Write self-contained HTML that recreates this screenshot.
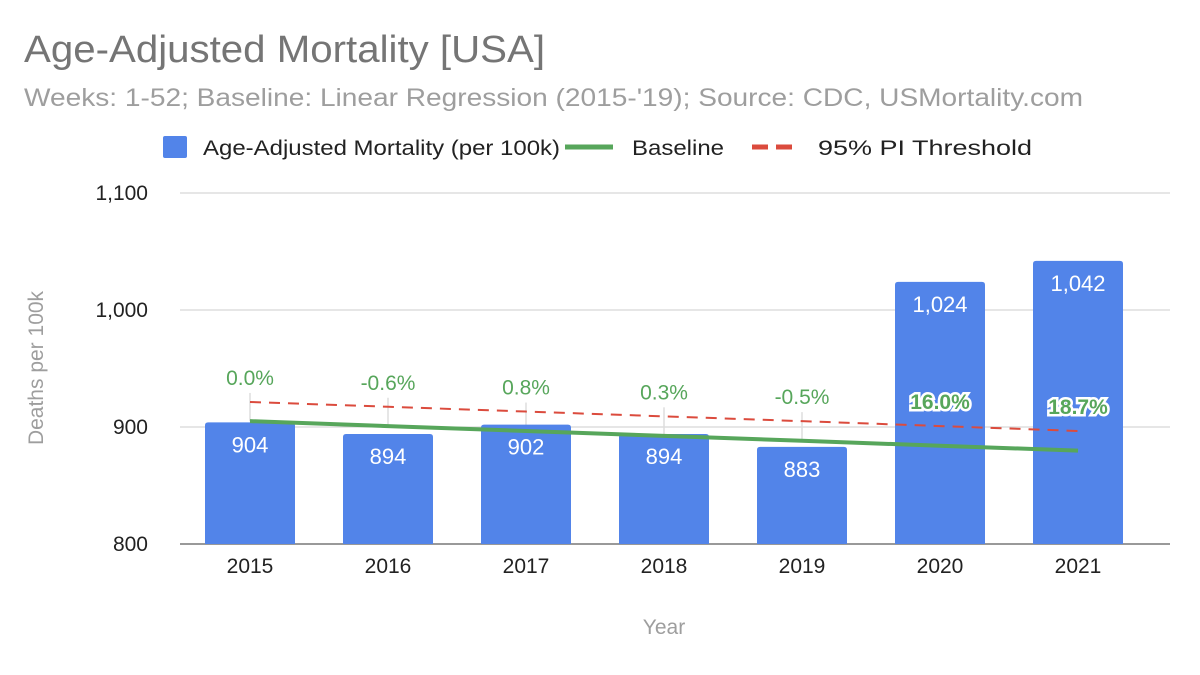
<!DOCTYPE html>
<html><head><meta charset="utf-8">
<style>
body{margin:0;background:#fff;width:1200px;height:670px;overflow:hidden;font-family:"Liberation Sans",Arial,sans-serif}
</style></head>
<body>
<svg id="chart" width="1200" height="670" xmlns="http://www.w3.org/2000/svg" font-family="Liberation Sans, Arial, sans-serif">
<text x="24" y="62" font-size="38" fill="#757575" textLength="521" lengthAdjust="spacingAndGlyphs">Age-Adjusted Mortality [USA]</text>
<text x="24" y="106" font-size="25" fill="#9e9e9e" textLength="1059" lengthAdjust="spacingAndGlyphs">Weeks: 1-52; Baseline: Linear Regression (2015-'19); Source: CDC, USMortality.com</text>
<g font-size="21" fill="#222">
 <g><rect x="163" y="136" width="24" height="22" rx="2" fill="#5284e9"/><text x="203" y="155" textLength="357" lengthAdjust="spacingAndGlyphs">Age-Adjusted Mortality (per 100k)</text></g>
 <g><line x1="565" y1="147" x2="613" y2="147" stroke="#57a65b" stroke-width="5"/><text x="632" y="155" textLength="92" lengthAdjust="spacingAndGlyphs">Baseline</text></g>
 <g><line x1="752" y1="147" x2="800" y2="147" stroke="#db4b3d" stroke-width="5" stroke-dasharray="16,8"/><text x="818" y="155" textLength="214" lengthAdjust="spacingAndGlyphs">95% PI Threshold</text></g>
</g>
<text transform="translate(43,368) rotate(-90)" text-anchor="middle" font-size="21" fill="#9e9e9e">Deaths per 100k</text>
<text x="664" y="634" text-anchor="middle" font-size="21" fill="#9e9e9e">Year</text>
<g id="grid"></g><g id="bars"></g><g id="lines"></g><g id="labels"></g>
</svg>
<script>
const years=["2015","2016","2017","2018","2019","2020","2021"];
const mortality=[904,894,902,894,883,1024,1042];
const baseline=[905,900.8,896.6,892.4,888.2,884,879.8];
const threshold=[921.4,917.3,913.2,909.1,905,900.8,896.6];
const pctLabels=["0.0%","-0.6%","0.8%","0.3%","-0.5%","16.0%","18.7%"];
const valueLabels=["904","894","902","894","883","1,024","1,042"];
const yTicks=[800,900,1000,1100];
const yTickLabels=["800","900","1,000","1,100"];
const NS="http://www.w3.org/2000/svg";
function y(v){return 544-(v-800)*1.17;}
function x(i){return 250+i*138;}
function mk(t,a,p){const e=document.createElementNS(NS,t);for(const k in a)e.setAttribute(k,a[k]);p.appendChild(e);return e;}
const grid=document.getElementById('grid'),bars=document.getElementById('bars'),lines=document.getElementById('lines'),labels=document.getElementById('labels');
yTicks.forEach((t,i)=>{
 const l=mk('line',{x1:180,x2:1170,y1:y(t),y2:y(t),stroke:i==0?'#333':'#ccc','stroke-width':1},grid);
 
 
 const tx=mk('text',{x:148,y:y(t)+7,'text-anchor':'end','font-size':21,fill:'#222'},grid);
 tx.textContent=yTickLabels[i];
 
 
});
years.forEach((yr,i)=>{
 const tx=mk('text',{x:x(i),y:573,'text-anchor':'middle','font-size':21,fill:'#222'},grid);
 tx.textContent=yr;
 
 
 const top=y(mortality[i]);
 const b=mk('path',{d:`M${x(i)-45},544 V${top+3} Q${x(i)-45},${top} ${x(i)-42},${top} H${x(i)+42} Q${x(i)+45},${top} ${x(i)+45},${top+3} V544 Z`,fill:'#5284e9'},bars);
 
 
 const vl=mk('text',{x:x(i),y:top+30,'text-anchor':'middle','font-size':22,fill:'#fff'},labels);
 vl.textContent=valueLabels[i];
 
 
 const ly=y(threshold[i])-17;
 if(i<5){
  const st=mk('line',{x1:x(i),x2:x(i),y1:ly+8,y2:y(baseline[i]),stroke:'#ddd','stroke-width':1.5},grid);
  
  
 }
 const pl=mk('text',{x:x(i),y:ly,'text-anchor':'middle','font-size':21,fill:'#57a65b'},labels);
 if(i>=5){pl.setAttribute('stroke','#fff');pl.setAttribute('stroke-width','5');pl.setAttribute('paint-order','stroke');pl.setAttribute('font-weight','bold');}
 pl.textContent=pctLabels[i];
 
 
});
const bp=mk('polyline',{points:baseline.map((v,i)=>x(i)+','+y(v)).join(' '),fill:'none',stroke:'#57a65b','stroke-width':4},lines);


const tp=mk('polyline',{points:threshold.map((v,i)=>x(i)+','+y(v)).join(' '),fill:'none',stroke:'#db4b3d','stroke-width':2,'stroke-dasharray':'11,8'},lines);


</script>
</body></html>
